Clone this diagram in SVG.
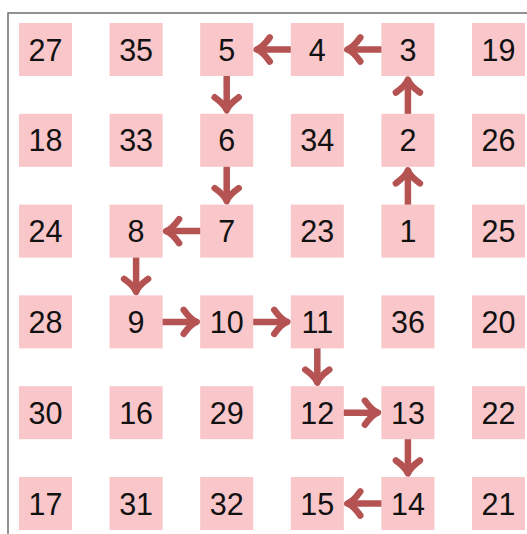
<svg xmlns="http://www.w3.org/2000/svg" width="527" height="534" viewBox="0 0 527 534">
<style>
.box{fill:#f9c6c9}
.lbl{font-family:"Liberation Sans",Arial,sans-serif;font-size:30.5px;fill:#111;text-anchor:middle}
.arr{stroke:#b55252;stroke-width:6.5;fill:none;marker-end:url(#ah)}
.frame{stroke:#6e6e6e;stroke-width:1.5;fill:none}
</style>
<defs>
<marker id="ah" markerUnits="userSpaceOnUse" orient="auto" refX="0" refY="0" overflow="visible" markerWidth="30" markerHeight="30">
<path d="M-13,-12 C-8,-5 -3,-1 0,0 C-3,1 -8,5 -13,12" fill="none" stroke="#b55252" stroke-width="6.5" stroke-linecap="round" stroke-linejoin="round"/>
</marker>
</defs>
<rect width="527" height="534" fill="#fff"/>
<path class="frame" d="M8,534 V13 H527"/>
<g id="nodes">
<g id="n27"><rect class="box" x="19" y="23" width="53" height="53"/><text class="lbl" x="45.5" y="60.6">27</text></g>
<g id="n35"><rect class="box" x="109.6" y="23" width="53" height="53"/><text class="lbl" x="136.1" y="60.6">35</text></g>
<g id="n5"><rect class="box" x="200.2" y="23" width="53" height="53"/><text class="lbl" x="226.7" y="60.6">5</text></g>
<g id="n4"><rect class="box" x="290.8" y="23" width="53" height="53"/><text class="lbl" x="317.3" y="60.6">4</text></g>
<g id="n3"><rect class="box" x="381.4" y="23" width="53" height="53"/><text class="lbl" x="407.9" y="60.6">3</text></g>
<g id="n19"><rect class="box" x="472" y="23" width="53" height="53"/><text class="lbl" x="498.5" y="60.6">19</text></g>

<g id="n18"><rect class="box" x="19" y="113.8" width="53" height="53"/><text class="lbl" x="45.5" y="151.4">18</text></g>
<g id="n33"><rect class="box" x="109.6" y="113.8" width="53" height="53"/><text class="lbl" x="136.1" y="151.4">33</text></g>
<g id="n6"><rect class="box" x="200.2" y="113.8" width="53" height="53"/><text class="lbl" x="226.7" y="151.4">6</text></g>
<g id="n34"><rect class="box" x="290.8" y="113.8" width="53" height="53"/><text class="lbl" x="317.3" y="151.4">34</text></g>
<g id="n2"><rect class="box" x="381.4" y="113.8" width="53" height="53"/><text class="lbl" x="407.9" y="151.4">2</text></g>
<g id="n26"><rect class="box" x="472" y="113.8" width="53" height="53"/><text class="lbl" x="498.5" y="151.4">26</text></g>

<g id="n24"><rect class="box" x="19" y="204.6" width="53" height="53"/><text class="lbl" x="45.5" y="242.2">24</text></g>
<g id="n8"><rect class="box" x="109.6" y="204.6" width="53" height="53"/><text class="lbl" x="136.1" y="242.2">8</text></g>
<g id="n7"><rect class="box" x="200.2" y="204.6" width="53" height="53"/><text class="lbl" x="226.7" y="242.2">7</text></g>
<g id="n23"><rect class="box" x="290.8" y="204.6" width="53" height="53"/><text class="lbl" x="317.3" y="242.2">23</text></g>
<g id="n1"><rect class="box" x="381.4" y="204.6" width="53" height="53"/><text class="lbl" x="407.9" y="242.2">1</text></g>
<g id="n25"><rect class="box" x="472" y="204.6" width="53" height="53"/><text class="lbl" x="498.5" y="242.2">25</text></g>

<g id="n28"><rect class="box" x="19" y="295.4" width="53" height="53"/><text class="lbl" x="45.5" y="333">28</text></g>
<g id="n9"><rect class="box" x="109.6" y="295.4" width="53" height="53"/><text class="lbl" x="136.1" y="333">9</text></g>
<g id="n10"><rect class="box" x="200.2" y="295.4" width="53" height="53"/><text class="lbl" x="226.7" y="333">10</text></g>
<g id="n11"><rect class="box" x="290.8" y="295.4" width="53" height="53"/><text class="lbl" x="317.3" y="333">11</text></g>
<g id="n36"><rect class="box" x="381.4" y="295.4" width="53" height="53"/><text class="lbl" x="407.9" y="333">36</text></g>
<g id="n20"><rect class="box" x="472" y="295.4" width="53" height="53"/><text class="lbl" x="498.5" y="333">20</text></g>

<g id="n30"><rect class="box" x="19" y="386.2" width="53" height="53"/><text class="lbl" x="45.5" y="423.8">30</text></g>
<g id="n16"><rect class="box" x="109.6" y="386.2" width="53" height="53"/><text class="lbl" x="136.1" y="423.8">16</text></g>
<g id="n29"><rect class="box" x="200.2" y="386.2" width="53" height="53"/><text class="lbl" x="226.7" y="423.8">29</text></g>
<g id="n12"><rect class="box" x="290.8" y="386.2" width="53" height="53"/><text class="lbl" x="317.3" y="423.8">12</text></g>
<g id="n13"><rect class="box" x="381.4" y="386.2" width="53" height="53"/><text class="lbl" x="407.9" y="423.8">13</text></g>
<g id="n22"><rect class="box" x="472" y="386.2" width="53" height="53"/><text class="lbl" x="498.5" y="423.8">22</text></g>

<g id="n17"><rect class="box" x="19" y="477" width="53" height="53"/><text class="lbl" x="45.5" y="514.6">17</text></g>
<g id="n31"><rect class="box" x="109.6" y="477" width="53" height="53"/><text class="lbl" x="136.1" y="514.6">31</text></g>
<g id="n32"><rect class="box" x="200.2" y="477" width="53" height="53"/><text class="lbl" x="226.7" y="514.6">32</text></g>
<g id="n15"><rect class="box" x="290.8" y="477" width="53" height="53"/><text class="lbl" x="317.3" y="514.6">15</text></g>
<g id="n14"><rect class="box" x="381.4" y="477" width="53" height="53"/><text class="lbl" x="407.9" y="514.6">14</text></g>
<g id="n21"><rect class="box" x="472" y="477" width="53" height="53"/><text class="lbl" x="498.5" y="514.6">21</text></g>
</g>
<g id="connectors">
<line class="arr" x1="407.9" y1="204.6" x2="407.9" y2="170.3"/>
<line class="arr" x1="407.9" y1="113.8" x2="407.9" y2="79.5"/>
<line class="arr" x1="381.4" y1="49.5" x2="347.3" y2="49.5"/>
<line class="arr" x1="290.8" y1="49.5" x2="256.7" y2="49.5"/>
<line class="arr" x1="226.7" y1="76" x2="226.7" y2="110.3"/>
<line class="arr" x1="226.7" y1="166.8" x2="226.7" y2="201.1"/>
<line class="arr" x1="200.2" y1="231.1" x2="166.1" y2="231.1"/>
<line class="arr" x1="136.1" y1="257.6" x2="136.1" y2="291.9"/>
<line class="arr" x1="162.6" y1="321.9" x2="196.7" y2="321.9"/>
<line class="arr" x1="253.2" y1="321.9" x2="287.3" y2="321.9"/>
<line class="arr" x1="317.3" y1="348.4" x2="317.3" y2="382.7"/>
<line class="arr" x1="343.8" y1="412.7" x2="377.9" y2="412.7"/>
<line class="arr" x1="407.9" y1="439.2" x2="407.9" y2="473.5"/>
<line class="arr" x1="381.4" y1="503.5" x2="347.3" y2="503.5"/>
</g>
</svg>
